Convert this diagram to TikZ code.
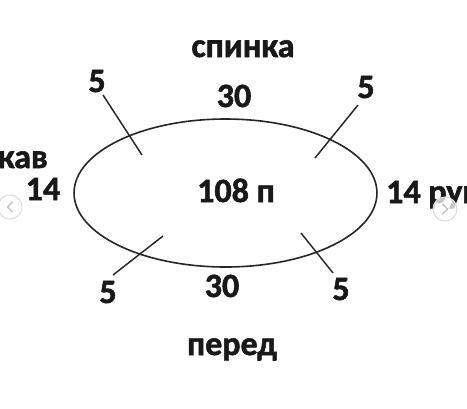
\documentclass[tikz,border=0pt]{standalone}
\usepackage{fontspec}
\setmainfont{Carlito}
\newfontfamily\lblfont{Carlito}[UprightFont={* Bold}, FakeBold=1.6]
\begin{document}
\begin{tikzpicture}[x=0.75pt,y=-0.75pt,
  lbl/.style={font=\lblfont\fontsize{25.5pt}{30pt}\selectfont, text=black!90, inner sep=0pt, anchor=base},
  tick/.style={draw=black!85, line width=1.1pt},
  oval/.style={draw=black!85, line width=1.2pt},
  navbtn/.style={draw=black!14, fill=white, fill opacity=0.75, line width=0.8pt},
  chev/.style={draw=black!25, line width=0.9pt, line cap=round, line join=round}]
\useasboundingbox (0,0) rectangle (467,408);
\clip (0,0) rectangle (467,408);
\fill[white] (0,0) rectangle (467,408);
% ellipse
\coordinate (c) at (225.5,193);
\draw[oval] (c) ellipse [x radius=113.6pt, y radius=55.5pt];
% ticks
\coordinate (tl1) at (103,95);  \coordinate (tl2) at (142,155);
\coordinate (tr1) at (358,105); \coordinate (tr2) at (315,158);
\coordinate (bl1) at (163,236); \coordinate (bl2) at (113,275);
\coordinate (br1) at (301,233); \coordinate (br2) at (333,273);
\draw[tick] (tl1) -- (tl2);
\draw[tick] (tr1) -- (tr2);
\draw[tick] (bl1) -- (bl2);
\draw[tick] (br1) -- (br2);
% labels
\node[lbl] (back) at (243,57) {спинка};
\node[lbl] (top30) at (234,107) {30};
\node[lbl] (mid) at (236,202) {108 п};
\node[lbl] (bot30) at (222,297) {30};
\node[lbl] (front) at (232,355) {перед};
\node[lbl] (ltl) at (97,92) {5};
\node[lbl] (ltr) at (366,98) {5};
\node[lbl] (lbl5) at (108,303) {5};
\node[lbl] (lbr) at (341,300) {5};
\node[lbl] (l14) at (43,200) {14};
\node[lbl, anchor=base east] (lsleeve) at (48,168) {рукав};
\node[lbl, anchor=base west] (r14) at (386,203) {14 рукав};
% carousel buttons
\node[navbtn, circle, minimum size=18pt] (prev) at (10,207) {};
\node[navbtn, circle, minimum size=18pt] (next) at (445,209) {};
\draw[chev] ([shift={(2.5,-5)}]prev.center) -- ([shift={(-2.5,0)}]prev.center) -- ([shift={(2.5,5)}]prev.center);
\draw[chev] ([shift={(-2.5,-5)}]next.center) -- ([shift={(2.5,0)}]next.center) -- ([shift={(-2.5,5)}]next.center);
\end{tikzpicture}
\end{document}
